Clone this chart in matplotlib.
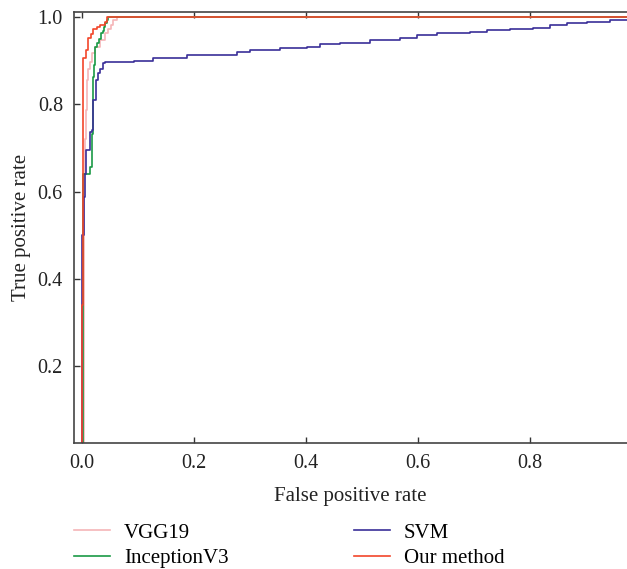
import matplotlib
matplotlib.use("Agg")
import matplotlib.pyplot as plt

plt.rcParams['font.family'] = ['Liberation Serif', 'DejaVu Serif']

# ROC vertices (fpr, tpr)
vgg_fpr = [0, 0.003, 0.005, 0.008, 0.0095, 0.011, 0.0143, 0.017, 0.023, 0.032, 0.041, 0.047, 0.052, 0.056, 0.062, 1.0]
vgg_tpr = [0, 0.64, 0.72, 0.787, 0.856, 0.882, 0.897, 0.917, 0.932, 0.947, 0.963, 0.972, 0.982, 0.993, 1.0, 1.0]

inc_fpr = [0, 0.001, 0.015, 0.017, 0.019, 0.021, 0.023, 0.026, 0.031, 0.034, 0.037, 0.039, 0.041, 0.044, 0.047, 1.0]
inc_tpr = [0, 0.641, 0.657, 0.733, 0.863, 0.89, 0.932, 0.94, 0.951, 0.963, 0.969, 0.978, 0.986, 0.993, 1.0, 1.0]

svm_fpr = [0, 0, 0.0036, 0.005, 0.008, 0.014, 0.017, 0.020, 0.025, 0.029, 0.032, 0.037, 0.041,
           0.092, 0.127, 0.187, 0.276, 0.3, 0.354, 0.401, 0.425, 0.461, 0.514, 0.568, 0.598,
           0.633, 0.693, 0.723, 0.764, 0.806, 0.836, 0.866, 0.901, 0.943, 1.0]
svm_tpr = [0, 0.5, 0.588, 0.641, 0.695, 0.737, 0.741, 0.81, 0.856, 0.871, 0.882, 0.894, 0.897,
           0.9, 0.907, 0.914, 0.92, 0.924, 0.93, 0.932, 0.938, 0.941, 0.947, 0.953, 0.959,
           0.963, 0.966, 0.97, 0.972, 0.976, 0.983, 0.986, 0.988, 0.993, 1.0]

our_fpr = [0, 0, 0.002, 0.007, 0.011, 0.016, 0.02, 0.026, 0.032, 0.041, 0.045, 1.0]
our_tpr = [0, 0.34, 0.907, 0.924, 0.952, 0.962, 0.972, 0.978, 0.982, 0.99, 1.0, 1.0]

labels = ["VGG19", "InceptionV3", "SVM", "Our method"]
colors = ["#f5b5b8", "#1a9a45", "#3a2f98", "#f2452a"]

fig = plt.figure(figsize=(6.27, 5.69), dpi=100)
ax = fig.add_axes([74 / 627, 1 - 443 / 569, 1 - 74 / 627, (443 - 12) / 569])

curves = [(vgg_fpr, vgg_tpr), (inc_fpr, inc_tpr), (svm_fpr, svm_tpr), (our_fpr, our_tpr)]
lines = []
for (fx, ty), lab, c in zip(curves, labels, colors):
    ln, = ax.plot(fx, ty, drawstyle='steps-post', color=c, lw=1.2, label=lab)
    lines.append(ln)

ax.set_xlim(-0.0143, 0.973)
ax.set_ylim(0.023, 1.012)
ax.set_xticks([0.0, 0.2, 0.4, 0.6, 0.8])
ax.set_yticks([0.2, 0.4, 0.6, 0.8, 1.0])
ax.tick_params(direction='in', top=True, labelsize=14.5, colors='#333333',
               labelcolor='#222222', length=4, width=1, pad=8)
for s in ['left', 'bottom', 'top']:
    ax.spines[s].set_color('#444444')
    ax.spines[s].set_linewidth(1.2)
ax.spines['right'].set_visible(False)

ax.set_xlabel("False positive rate", fontsize=15, color='#222222', labelpad=10)
ax.set_ylabel("True positive rate", fontsize=15, color='#222222', labelpad=5)

leg_kw = dict(loc='upper left', frameon=False, fontsize=15, handlelength=1.75,
              handletextpad=0.65, labelspacing=0.3, borderpad=0, borderaxespad=0)
leg1 = fig.legend(lines[:2], labels[:2], bbox_to_anchor=(74 / 627, 1 - 523 / 569), **leg_kw)
leg2 = fig.legend(lines[2:], labels[2:], bbox_to_anchor=(354 / 627, 1 - 523 / 569), **leg_kw)

fig.savefig("out.png", dpi=100)
